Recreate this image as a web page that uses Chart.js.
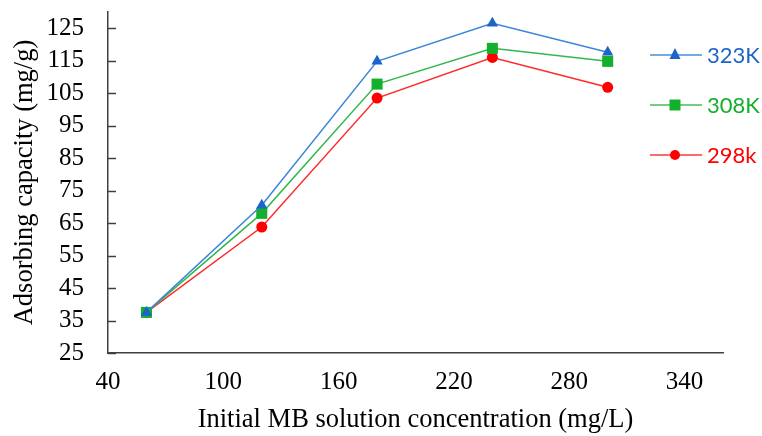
<!DOCTYPE html>
<html>
<head>
<meta charset="utf-8">
<script src="https://cdn.jsdelivr.net/npm/chart.js@4.4.1/dist/chart.umd.min.js"></script>
<style>
  html, body { margin: 0; padding: 0; background: #fff; }
  #wrap { width: 762px; height: 436px; }
</style>
</head>
<body>
<div id="wrap"><canvas id="c" width="762" height="436"></canvas></div>
<script>
const concentration = [60, 120, 180, 240, 300];
const cap323 = [37.5, 70.5, 114.8, 126.5, 117.6];
const cap308 = [37.5, 68.0, 107.8, 118.8, 114.8];
const cap298 = [37.5, 63.8, 103.5, 116.0, 106.8];
const xTicks = [40, 100, 160, 220, 280, 340];
const yTicks = [25, 35, 45, 55, 65, 75, 85, 95, 105, 115, 125];
const seriesNames = ["323K", "308K", "298k"];

const serif = "'Liberation Serif', 'Times New Roman', serif";
const axisColor = "#404040";

const series = [
  { label: seriesNames[0], data: cap323, line: "#3a86d8", mark: "#1c64c8", style: "triangle", r: 6.5 },
  { label: seriesNames[1], data: cap308, line: "#33b84b", mark: "#12b02c", style: "rect", r: 7.8 },
  { label: seriesNames[2], data: cap298, line: "#ff2a2a", mark: "#ff0000", style: "circle", r: 5.5 }
];

// y tick marks drawn inside the plot + side legend
const extras = {
  id: "extras",
  afterDraw(chart) {
    const ctx = chart.ctx, y = chart.scales.y, a = chart.chartArea;
    ctx.save();
    ctx.strokeStyle = axisColor;
    ctx.lineWidth = 1.5;
    yTicks.forEach(v => {
      const py = Math.round(y.getPixelForValue(v)) + 0.5;
      ctx.beginPath();
      ctx.moveTo(a.left, py);
      ctx.lineTo(a.left + 8, py);
      ctx.stroke();
    });
    const rows = [55, 105, 155];
    series.forEach((s, i) => {
      const ly = rows[i];
      ctx.strokeStyle = s.line;
      ctx.globalAlpha = 0.7;
      ctx.lineWidth = 2;
      ctx.beginPath();
      ctx.moveTo(650, ly);
      ctx.lineTo(702, ly);
      ctx.stroke();
      ctx.globalAlpha = 1;
      ctx.fillStyle = s.mark;
      ctx.beginPath();
      if (s.style === "circle") ctx.arc(675, ly, 5, 0, Math.PI * 2);
      else if (s.style === "rect") ctx.rect(669.5, ly - 5.5, 11, 11);
      else { ctx.moveTo(675, ly - 7); ctx.lineTo(680.5, ly + 4); ctx.lineTo(669.5, ly + 4); ctx.closePath(); }
      ctx.fill();
      ctx.font = "22px Lato, 'Open Sans', sans-serif";
      ctx.textBaseline = "middle";
      ctx.textAlign = "left";
      ctx.fillText(s.label, 707, ly + 1);
    });
    ctx.restore();
  }
};

new Chart(document.getElementById("c"), {
  type: "line",
  data: {
    datasets: series.map(s => ({
      label: s.label,
      data: s.data.map((v, i) => ({ x: concentration[i], y: v })),
      borderColor: s.line,
      borderWidth: 1.5,
      pointStyle: s.style,
      pointRadius: s.r,
      pointBackgroundColor: s.mark,
      pointBorderColor: s.mark,
      pointBorderWidth: 0,
      tension: 0,
      fill: false
    }))
  },
  options: {
    responsive: false,
    animation: false,
    devicePixelRatio: 1,
    layout: { padding: { left: 0, top: 12, right: 39, bottom: 0 } },
    plugins: { legend: { display: false }, tooltip: { enabled: false } },
    scales: {
      x: {
        type: "linear",
        min: 40, max: 360,
        afterBuildTicks: s => { s.ticks = xTicks.map(v => ({ value: v })); },
        afterFit: s => { s.height = 83; s.paddingLeft = 0; s.paddingRight = 0; },
        grid: { display: false, drawTicks: false },
        border: { display: true, color: axisColor, width: 1.5 },
        ticks: { color: "#000", font: { family: serif, size: 25 }, padding: 14, maxRotation: 0, autoSkip: false },
        title: { display: true, text: "Initial MB solution concentration (mg/L)", color: "#000",
                 font: { family: serif, size: 26.5 }, padding: { top: 0, bottom: 0 } }
      },
      y: {
        min: 25, max: 130,
        afterBuildTicks: s => { s.ticks = yTicks.map(v => ({ value: v })); },
        afterFit: s => { s.width = 108; s.paddingTop = 0; s.paddingBottom = 0; },
        grid: { display: false, drawTicks: false },
        border: { display: true, color: axisColor, width: 1.5 },
        ticks: { color: "#000", font: { family: serif, size: 25 }, padding: 24, autoSkip: false },
        title: { display: true, text: "Adsorbing capacity (mg/g)", color: "#000",
                 font: { family: serif, size: 26.5 }, padding: { top: 9, bottom: 0 } }
      }
    }
  },
  plugins: [extras]
});
</script>
</body>
</html>
